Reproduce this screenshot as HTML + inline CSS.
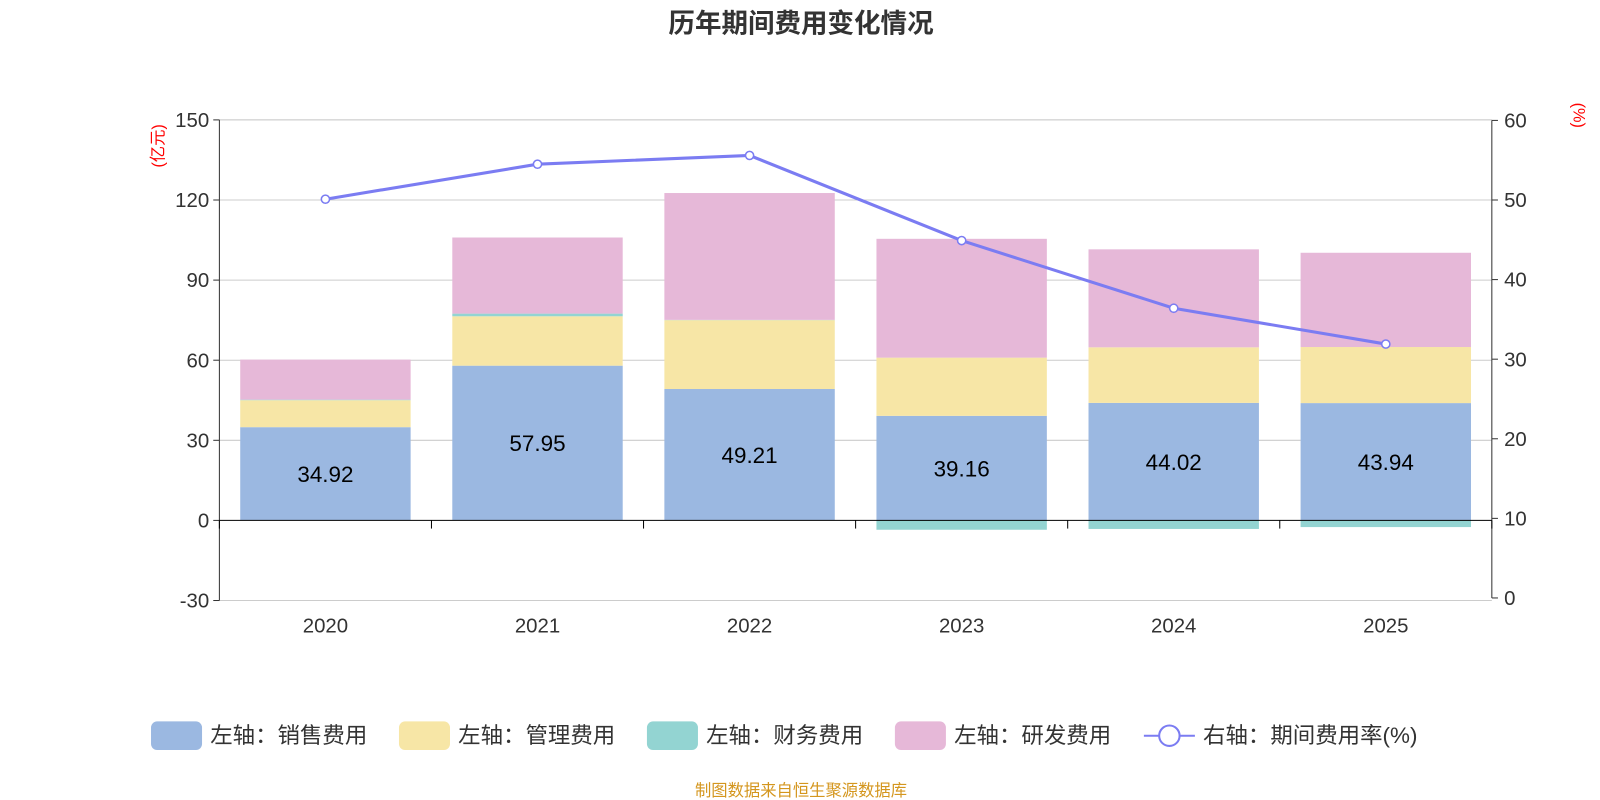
<!DOCTYPE html>
<html><head><meta charset="utf-8">
<style>
body{margin:0;background:#fff;}
svg{display:block;font-family:"Liberation Sans","Noto Sans CJK SC",sans-serif;}
</style></head>
<body>
<svg id="chart" width="1600" height="800" viewBox="0 0 1568 784">
<text x="785" y="32" text-anchor="middle" font-size="26" font-weight="bold" fill="#333">历年期间费用变化情况</text>
<text x="0" y="0" font-size="16" fill="red" transform="translate(160,143) rotate(-90)" text-anchor="middle">(亿元)</text>
<text x="0" y="0" font-size="16" fill="red" transform="translate(1542,113) rotate(90)" text-anchor="middle">(%)</text>
<g id="grid"></g><g id="bars"></g><g id="axes"></g><g id="line"></g><g id="legend"></g>
<text x="785" y="780" text-anchor="middle" font-size="16" fill="#d4961e">制图数据来自恒生聚源数据库</text>
</svg>
<script>
const categories=["2020","2021","2022","2023","2024","2025"];
const sales=[34.92,57.95,49.21,39.16,44.02,43.94];
const admin=[10.1,18.5,25.8,21.8,20.8,21.0];
const finance=[0.2,1.0,0.1,-3.5,-3.2,-2.5];
const rnd=[15.0,28.5,47.5,44.5,36.7,35.3];
const rate=[50.1,54.5,55.6,44.9,36.4,31.9];
const leftTicks=[-30,0,30,60,90,120,150];
const rightTicks=[0,10,20,30,40,50,60];
const NS="http://www.w3.org/2000/svg";
const X0=215,X1=1462,band=(X1-X0)/categories.length,bw=167;
const yL=v=>510-v*(471/180);
const yR=v=>586-v*7.8;
const xC=i=>X0+band*(i+0.5);
function mk(p,t,a){const e=document.createElementNS(NS,t);for(const k in a)e.setAttribute(k,a[k]);p.appendChild(e);return e;}
const grid=document.getElementById('grid'),bars=document.getElementById('bars'),axes=document.getElementById('axes'),line=document.getElementById('line'),legend=document.getElementById('legend');
leftTicks.forEach(v=>{
 const y=yL(v);
 if(v!==0){const g=mk(grid,'line',{x1:X0,x2:X1,y1:y,y2:y,stroke:'#ccc','stroke-width':1});
 
 }
 mk(axes,'line',{x1:X0-6,x2:X0,y1:y,y2:y,stroke:'#333'});
 const t=mk(axes,'text',{x:X0-10,y:y+7,'text-anchor':'end','font-size':20,fill:'#333'});t.textContent=v;
 
 
});
rightTicks.forEach(v=>{
 const y=yR(v);
 mk(axes,'line',{x1:X1,x2:X1+6,y1:y,y2:y,stroke:'#333'});
 const t=mk(axes,'text',{x:X1+12,y:y+7,'font-size':20,fill:'#333'});t.textContent=v;
 
 
});
mk(axes,'line',{x1:X0,x2:X0,y1:yL(150),y2:yL(-30),stroke:'#333'});
mk(axes,'line',{x1:X1,x2:X1,y1:yR(60),y2:yR(0),stroke:'#333'});
categories.forEach((c,i)=>{
 const x=xC(i)-bw/2;
 const segs=[[sales[i],'#9bb8e1','sales'],[admin[i],'#f7e6a6','admin'],[finance[i],'#93d4d2','finance'],[rnd[i],'#e6b8d8','rnd']];
 let pos=0,neg=0;
 segs.forEach(([v,col,n])=>{
  let y0,y1;
  if(v>=0){y0=pos;y1=pos+v;pos=y1;}else{y0=neg+v;y1=neg;neg=y0;}
  const r=mk(bars,'rect',{x:x,width:bw,y:yL(y1),height:Math.max(0,yL(y0)-yL(y1)),fill:col});
  
  
 });
 const t=mk(bars,'text',{x:xC(i),y:yL(sales[i]/2)+8,'text-anchor':'middle','font-size':22,fill:'#000'});t.textContent=sales[i].toFixed(2);
 
 
 const xl=mk(axes,'text',{x:xC(i),y:620,'text-anchor':'middle','font-size':20,fill:'#333'});xl.textContent=c;
 
 
});
mk(axes,'line',{x1:X0,x2:X1,y1:yL(0),y2:yL(0),stroke:'#000'});
for(let i=0;i<=categories.length;i++){const x=X0+band*i;mk(axes,'line',{x1:x,x2:x,y1:yL(0),y2:yL(0)+8,stroke:'#000'});}
mk(grid,'line',{x1:X0,x2:X1,y1:yL(150),y2:yL(150),stroke:'#ccc'});
const pts=rate.map((v,i)=>xC(i)+','+yR(v)).join(' ');
const pl=mk(line,'polyline',{points:pts,fill:'none',stroke:'#7b7cf2','stroke-width':3});


rate.forEach((v,i)=>{const c=mk(line,'circle',{cx:xC(i),cy:yR(v),r:4,fill:'#fff',stroke:'#7b7cf2','stroke-width':1.5});
 
 });
const items=[['#9bb8e1','左轴：销售费用',148],['#f7e6a6','左轴：管理费用',391],['#93d4d2','左轴：财务费用',634],['#e6b8d8','左轴：研发费用',877]];
items.forEach(([col,lab,x])=>{
 const g=mk(legend,'g',{});
 
 
 mk(g,'rect',{x:x,y:707,width:50,height:28,rx:6,fill:col});
 const t=mk(g,'text',{x:x+58,y:728,'font-size':22,fill:'#333'});t.textContent=lab;
});
const g=mk(legend,'g',{});


mk(g,'line',{x1:1121,x2:1171,y1:721,y2:721,stroke:'#7b7cf2','stroke-width':2});
mk(g,'circle',{cx:1146,cy:721,r:10,fill:'#fff',stroke:'#7b7cf2','stroke-width':2});
const t=mk(g,'text',{x:1179,y:728,'font-size':22,fill:'#333'});t.textContent='右轴：期间费用率(%)';
</script>
</body></html>
